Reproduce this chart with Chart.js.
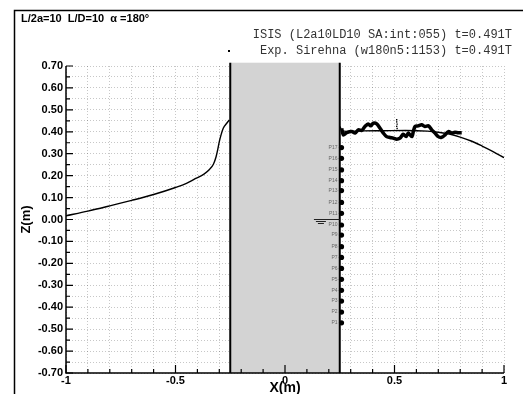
<!DOCTYPE html>
<html>
<head>
<meta charset="utf-8">
<script src="https://cdn.jsdelivr.net/npm/chart.js@4.4.0/dist/chart.umd.min.js"></script>
<style>
  html, body { margin: 0; padding: 0; background: #fff; }
</style>
</head>
<body>
<canvas id="waveChart" width="523" height="394"></canvas>
<script>
// Free surface from ISIS, upstream side of the body
const isisLeftX = [-1.0, -0.9, -0.8, -0.7, -0.6, -0.5, -0.45, -0.41, -0.37, -0.345, -0.327, -0.315, -0.307, -0.3, -0.292, -0.282, -0.266, -0.254];
const isisLeftZ = [0.017, 0.038, 0.062, 0.087, 0.114, 0.146, 0.165, 0.186, 0.207, 0.228, 0.252, 0.285, 0.32, 0.355, 0.386, 0.416, 0.439, 0.454];

// Free surface from ISIS, downstream side
const isisRightX = [0.25, 0.262, 0.28, 0.35, 0.45, 0.55, 0.65, 0.7, 0.75, 0.8, 0.85, 0.9, 0.95, 1.0];
const isisRightZ = [0.425, 0.405, 0.402, 0.404, 0.405, 0.406, 0.403, 0.398, 0.39, 0.376, 0.358, 0.335, 0.31, 0.282];

// Sirehna experiment (dense record, drawn as a thick trace)
const expX = [0.259, 0.266, 0.282, 0.305, 0.32, 0.335, 0.35, 0.365, 0.38, 0.391, 0.403, 0.419, 0.434, 0.449, 0.464, 0.479, 0.495, 0.51, 0.525, 0.54, 0.553, 0.563, 0.579, 0.586, 0.594, 0.609, 0.624, 0.639, 0.655, 0.67, 0.685, 0.7, 0.715, 0.731, 0.746, 0.761, 0.776, 0.791, 0.807];
const expZ = [0.416, 0.386, 0.396, 0.401, 0.394, 0.409, 0.406, 0.424, 0.436, 0.427, 0.439, 0.436, 0.416, 0.394, 0.378, 0.374, 0.371, 0.366, 0.371, 0.389, 0.378, 0.394, 0.378, 0.401, 0.424, 0.427, 0.432, 0.424, 0.427, 0.409, 0.394, 0.378, 0.375, 0.386, 0.401, 0.394, 0.398, 0.396, 0.396];
// a few stray experimental samples
const expStrayX = [0.51, 0.51, 0.512, 0.51, 0.512];
const expStrayZ = [0.455, 0.445, 0.435, 0.425, 0.415];

// Wave probes on the downstream wall
const probeLabels = ['P1', 'P2', 'P3', 'P4', 'P5', 'P6', 'P7', 'P8', 'P9', 'P10', 'P11', 'P12', 'P13', 'P14', 'P15', 'P16', 'P17'];
const probeX = [0.258, 0.258, 0.258, 0.258, 0.258, 0.258, 0.258, 0.258, 0.258, 0.258, 0.258, 0.258, 0.258, 0.258, 0.258, 0.258, 0.258];
const probeZ = [-0.471, -0.422, -0.372, -0.323, -0.273, -0.223, -0.173, -0.124, -0.071, -0.025, 0.028, 0.078, 0.132, 0.177, 0.226, 0.279, 0.328];

// body section and still water level
const bodyX = [-0.25, 0.25];
const bodyZ = [-0.7, 0.715];
const waterMarkX = [0.132, 0.25];
const waterLevel = 0.0;

const isisLabel = 'ISIS (L2a10LD10 SA:int:055) t=0.491T';
const expLabel = 'Exp. Sirehna (w180n5:1153) t=0.491T';
const headerText = 'L/2a=10  L/D=10  \u03b1 =180\u00b0';

const FONT = "'Liberation Sans', Arial, Helvetica, sans-serif";

const toPoints = (xs, zs) => xs.map((v, i) => ({ x: v, y: zs[i] }));

const decor = {
    id: 'decor',
    beforeDatasetsDraw(chart) {
        const { ctx, scales: { x, y } } = chart;
        const l = x.getPixelForValue(bodyX[0]), r = x.getPixelForValue(bodyX[1]);
        const t = y.getPixelForValue(bodyZ[1]), b = y.getPixelForValue(bodyZ[0]);
        ctx.save();
        ctx.fillStyle = '#d3d3d3';
        ctx.fillRect(l, t, r - l, b - t);
        ctx.strokeStyle = '#000';
        ctx.lineWidth = 2;
        ctx.beginPath();
        ctx.moveTo(l, t); ctx.lineTo(l, b);
        ctx.moveTo(r, t); ctx.lineTo(r, b);
        ctx.stroke();
        ctx.restore();
    },
    afterDatasetsDraw(chart) {
        const { ctx, chartArea: area, scales: { x, y } } = chart;
        ctx.save();
        ctx.strokeStyle = '#000';
        ctx.lineWidth = 1.5;
        // axis lines
        ctx.beginPath();
        ctx.moveTo(area.left, area.top);
        ctx.lineTo(area.left, area.bottom);
        ctx.lineTo(area.right, area.bottom);
        ctx.stroke();
        // inward ticks
        ctx.lineWidth = 1.2;
        ctx.beginPath();
        y.ticks.forEach(tk => {
            const major = Math.round(tk.value * 20) % 2 === 0;
            const py = y.getPixelForValue(tk.value);
            ctx.moveTo(area.left, py);
            ctx.lineTo(area.left + (major ? 7 : 4), py);
        });
        x.ticks.forEach(tk => {
            const major = Math.round(tk.value * 10) % 5 === 0;
            const px = x.getPixelForValue(tk.value);
            ctx.moveTo(px, area.bottom);
            ctx.lineTo(px, area.bottom - (major ? 8 : 4));
        });
        ctx.stroke();

        // probe names
        const meta = chart.getDatasetMeta(4);
        ctx.fillStyle = '#666';
        ctx.font = '5px ' + FONT;
        ctx.textAlign = 'right';
        ctx.textBaseline = 'middle';
        meta.data.forEach((pt, i) => {
            ctx.fillText(probeLabels[i], pt.x - 4, pt.y);
        });

        // still water level symbol
        const wl = y.getPixelForValue(waterLevel);
        const w0 = x.getPixelForValue(waterMarkX[0]);
        const w1 = x.getPixelForValue(waterMarkX[1]);
        ctx.strokeStyle = '#222';
        ctx.lineWidth = 1;
        ctx.beginPath();
        ctx.moveTo(w0, wl); ctx.lineTo(w1, wl);
        ctx.moveTo(w0 + 2, wl + 2); ctx.lineTo(w0 + 12, wl + 2);
        ctx.moveTo(w0 + 4, wl + 4); ctx.lineTo(w0 + 10, wl + 4);
        ctx.stroke();
        ctx.restore();
    },
    afterDraw(chart) {
        const { ctx } = chart;
        ctx.save();
        // outer frame
        ctx.strokeStyle = '#000';
        ctx.lineWidth = 1.5;
        ctx.beginPath();
        ctx.moveTo(14.5, 394); ctx.lineTo(14.5, 10.5); ctx.lineTo(523, 10.5);
        ctx.stroke();
        // header
        ctx.fillStyle = '#000';
        ctx.font = 'bold 11px ' + FONT;
        ctx.textAlign = 'left';
        ctx.textBaseline = 'middle';
        ctx.fillText(headerText, 21, 19);
        // legend
        ctx.font = "12px 'Liberation Mono', 'Courier New', monospace";
        ctx.textAlign = 'right';
        ctx.fillStyle = '#333';
        ctx.fillText(chart.data.datasets[0].label, 512, 35);
        ctx.fillText(chart.data.datasets[2].label, 512, 51);
        ctx.fillStyle = '#000';
        ctx.fillRect(228, 50, 2, 2);
        ctx.restore();
    }
};

const ctx = document.getElementById('waveChart').getContext('2d');

new Chart(ctx, {
    type: 'scatter',
    data: {
        datasets: [{
            label: isisLabel,
            data: toPoints(isisLeftX, isisLeftZ),
            showLine: true,
            borderColor: '#000',
            borderWidth: 1.4,
            pointRadius: 0,
            cubicInterpolationMode: 'monotone'
        }, {
            label: isisLabel,
            data: toPoints(isisRightX, isisRightZ),
            showLine: true,
            borderColor: '#000',
            borderWidth: 1.4,
            pointRadius: 0,
            cubicInterpolationMode: 'monotone'
        }, {
            label: expLabel,
            data: toPoints(expX, expZ),
            showLine: true,
            borderColor: '#000',
            borderWidth: 3.5,
            pointRadius: 0,
            tension: 0.3
        }, {
            label: expLabel,
            data: toPoints(expStrayX, expStrayZ),
            pointStyle: 'rect',
            pointRadius: 1,
            backgroundColor: '#000',
            borderWidth: 0
        }, {
            label: 'Probes',
            data: toPoints(probeX, probeZ),
            pointRadius: 2.6,
            backgroundColor: '#000',
            borderWidth: 0
        }]
    },
    options: {
        responsive: false,
        animation: false,
        devicePixelRatio: 1,
        layout: { padding: { left: 14, top: 66, right: 19, bottom: 0 } },
        plugins: { legend: { display: false }, tooltip: { enabled: false } },
        scales: {
            x: {
                type: 'linear',
                min: -1,
                max: 1,
                afterFit: s => { s.height = 21; },
                grid: { color: 'rgba(0,0,0,0.22)', lineWidth: 1, drawTicks: false, borderDash: [1, 2] },
                border: { display: false, dash: [1, 2] },
                ticks: {
                    stepSize: 0.1,
                    autoSkip: false,
                    maxRotation: 0,
                    padding: 1,
                    color: '#000',
                    font: { family: FONT, size: 11, weight: 'bold' },
                    callback: v => {
                        const r = Math.round(v * 10);
                        return r % 5 === 0 ? String(r / 10) : '';
                    }
                },
                title: {
                    display: true,
                    text: 'X(m)',
                    color: '#000',
                    font: { family: FONT, size: 14, weight: 'bold', lineHeight: 1 },
                    padding: { top: 0, bottom: -1 }
                }
            },
            y: {
                type: 'linear',
                min: -0.7,
                max: 0.7,
                afterFit: s => { s.width = 52; },
                grid: { color: 'rgba(0,0,0,0.22)', lineWidth: 1, drawTicks: false, borderDash: [1, 2] },
                border: { display: false, dash: [1, 2] },
                ticks: {
                    stepSize: 0.05,
                    autoSkip: false,
                    padding: 3,
                    color: '#000',
                    font: { family: FONT, size: 11, weight: 'bold' },
                    callback: v => {
                        const r = Math.round(v * 20);
                        return r % 2 === 0 ? (r / 20).toFixed(2) : '';
                    }
                },
                title: {
                    display: true,
                    text: 'Z(m)',
                    color: '#000',
                    font: { family: FONT, size: 13, weight: 'bold', lineHeight: 1 },
                    padding: { top: 6, bottom: 0 }
                }
            }
        }
    },
    plugins: [decor]
});
</script>
</body>
</html>
